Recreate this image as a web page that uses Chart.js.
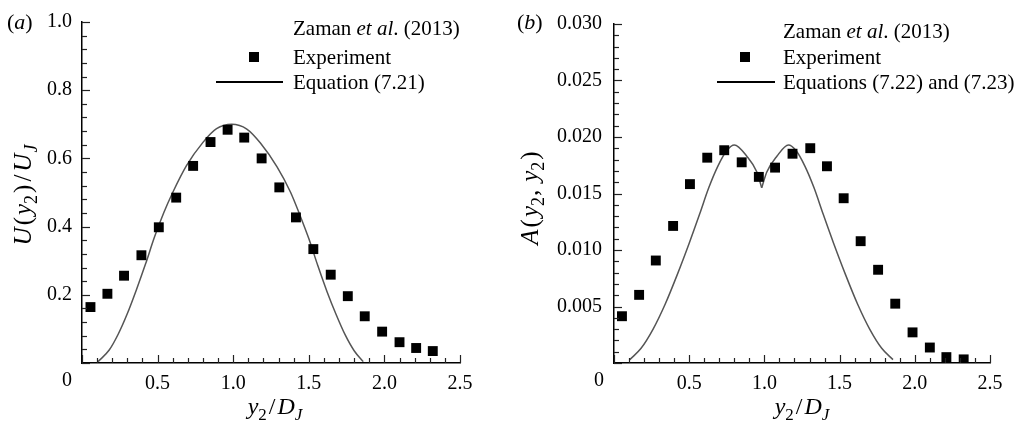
<!DOCTYPE html>
<html>
<head>
<meta charset="utf-8">
<script src="https://cdn.jsdelivr.net/npm/chart.js@4.4.0/dist/chart.umd.min.js"></script>
<style>
  body { margin: 0; background: #fff; }
  #wrap { position: relative; width: 1019px; height: 425px; }
  canvas { position: absolute; top: 0; }
  #ca { left: 0; }
  #cb { left: 510px; }
</style>
</head>
<body>
<div id="wrap">
  <canvas id="ca" width="500" height="425"></canvas>
  <canvas id="cb" width="509" height="425"></canvas>
</div>
<script>
// panel (a): mean velocity
const aExpX = [0.056, 0.168, 0.278, 0.393, 0.508, 0.623, 0.735, 0.85, 0.963, 1.073, 1.188, 1.305, 1.415, 1.53, 1.645, 1.758, 1.87, 1.985, 2.10, 2.21, 2.32];
const aExpY = [0.164, 0.203, 0.256, 0.316, 0.398, 0.485, 0.578, 0.648, 0.684, 0.661, 0.600, 0.515, 0.427, 0.334, 0.259, 0.196, 0.137, 0.092, 0.061, 0.044, 0.035];
const aEqX = [0.106, 0.18, 0.24, 0.30, 0.36, 0.42, 0.48, 0.54, 0.60, 0.69, 0.80, 0.89, 0.99, 1.09, 1.18, 1.29, 1.38, 1.44, 1.50, 1.56, 1.62, 1.68, 1.74, 1.80, 1.86];
const aEqY = [0.004, 0.038, 0.085, 0.145, 0.215, 0.29, 0.37, 0.44, 0.50, 0.578, 0.647, 0.687, 0.70, 0.686, 0.645, 0.575, 0.50, 0.435, 0.365, 0.285, 0.21, 0.143, 0.083, 0.036, 0.004];

// panel (b): A(y2, y2)
const bExpX = [0.053, 0.167, 0.278, 0.393, 0.505, 0.62, 0.733, 0.849, 0.963, 1.071, 1.187, 1.305, 1.416, 1.527, 1.64, 1.756, 1.87, 1.985, 2.10, 2.21, 2.325];
const bExpY = [0.00414, 0.00603, 0.00907, 0.01213, 0.01583, 0.01817, 0.01883, 0.01776, 0.01647, 0.01729, 0.01852, 0.01901, 0.01741, 0.01458, 0.01078, 0.00825, 0.00525, 0.00271, 0.00137, 0.00052, 0.00032];
// the equation curve has a cusp at the centre, so it is kept as two branches
const bEqLeftX = [0.105, 0.18, 0.26, 0.34, 0.42, 0.50, 0.57, 0.63, 0.69, 0.75, 0.80, 0.883, 0.95, 0.982];
const bEqLeftY = [0.0003, 0.0013, 0.0030, 0.0052, 0.0078, 0.0106, 0.0132, 0.0155, 0.0174, 0.0188, 0.0193, 0.0183, 0.0169, 0.0155];
const bEqRightX = [0.982, 1.016, 1.083, 1.16, 1.21, 1.27, 1.33, 1.39, 1.46, 1.54, 1.62, 1.70, 1.78, 1.855];
const bEqRightY = [0.0155, 0.0169, 0.0183, 0.0193, 0.0188, 0.0174, 0.0155, 0.0132, 0.0106, 0.0078, 0.0052, 0.0030, 0.0013, 0.0003];

const xTicks = [0, 0.5, 1.0, 1.5, 2.0, 2.5];
const aYTicks = [0, 0.2, 0.4, 0.6, 0.8, 1.0];
const bYTicks = [0, 0.005, 0.010, 0.015, 0.020, 0.025, 0.030];

const SERIF = '"Liberation Serif", "Times New Roman", serif';
const pts = (xs, ys) => xs.map((x, i) => ({ x: x, y: ys[i] }));

// draws a run of roman / italic / subscript pieces
function drawRich(ctx, parts, x, y, size, align) {
  const fontFor = k => (k.indexOf('i') >= 0 ? 'italic ' : '') + Math.round(k[0] === 's' ? size * 0.72 : size) + 'px ' + SERIF;
  let w = 0;
  parts.forEach(p => { ctx.font = fontFor(p[1]); w += ctx.measureText(p[0]).width + (p[2] || 0); });
  let cx = align === 'center' ? x - w / 2 : x;
  parts.forEach(p => {
    ctx.font = fontFor(p[1]);
    ctx.fillText(p[0], cx, p[1][0] === 's' ? y + size * 0.25 : y);
    cx += ctx.measureText(p[0]).width + (p[2] || 0);
  });
}

// ticks pointing into the plot, major and minor
const inwardTicks = {
  id: 'inwardTicks',
  afterDatasetsDraw(chart, args, o) {
    const { ctx, chartArea: a, scales: { x, y } } = chart;
    ctx.save();
    ctx.strokeStyle = '#222';
    ctx.lineWidth = 1.2;
    const nx = Math.round((x.max - x.min) / o.xMinor);
    for (let i = 0; i <= nx; i++) {
      const px = Math.round(x.getPixelForValue(x.min + i * o.xMinor)) + 0.5;
      const len = i % o.xEvery === 0 ? 8 : 5;
      ctx.beginPath(); ctx.moveTo(px, a.bottom); ctx.lineTo(px, a.bottom - len); ctx.stroke();
    }
    const ny = Math.round((y.max - y.min) / o.yMinor);
    for (let i = 0; i <= ny; i++) {
      const py = Math.round(y.getPixelForValue(y.min + i * o.yMinor)) + 0.5;
      const len = i % o.yEvery === 0 ? 8 : 5;
      ctx.beginPath(); ctx.moveTo(a.left, py); ctx.lineTo(a.left + len, py); ctx.stroke();
    }
    // the shared origin label sits left of the axis
    ctx.fillStyle = '#000';
    ctx.font = '20px ' + SERIF;
    ctx.textAlign = 'center';
    ctx.textBaseline = 'middle';
    ctx.fillText('0', x.getPixelForValue(0) - 15, a.bottom + 18);
    ctx.restore();
  }
};

// legend, panel label and axis titles
const annotations = {
  id: 'annotations',
  afterDraw(chart, args, o) {
    const ctx = chart.ctx;
    ctx.save();
    ctx.fillStyle = '#000';
    ctx.textBaseline = 'alphabetic';
    ctx.textAlign = 'left';
    // panel tag
    drawRich(ctx, [['(', 'r'], [o.tag, 'i'], [')', 'r']], 7, 29, 22, 'left');
    // legend
    drawRich(ctx, [['Zaman ', 'r'], ['et al', 'i'], ['. (2013)', 'r']], o.legX, o.legY0 + 7, 21, 'left');
    ctx.fillRect(o.markX - 5, o.legY1 - 5, 10, 10);
    drawRich(ctx, [['Experiment', 'r']], o.legX, o.legY1 + 7, 21, 'left');
    ctx.strokeStyle = '#000';
    ctx.lineWidth = 2;
    ctx.beginPath(); ctx.moveTo(o.lineX0, o.legY2); ctx.lineTo(o.lineX1, o.legY2); ctx.stroke();
    drawRich(ctx, [[o.eqText, 'r']], o.legX, o.legY2 + 7, 21, 'left');
    // x title
    drawRich(ctx, [['y', 'i'], ['2', 'sr', 2], ['/', 'r', 2], ['D', 'i'], ['J', 'si']], o.xtX, 414, 24, 'center');
    // y title, rotated
    ctx.translate(o.ytX, o.ytY);
    ctx.rotate(-Math.PI / 2);
    drawRich(ctx, o.yParts, 0, 0, 25, 'center');
    ctx.restore();
  }
};

function makeChart(id, datasets, cfg) {
  return new Chart(document.getElementById(id), {
    type: 'scatter',
    data: { datasets: datasets },
    options: {
      responsive: false,
      animation: false,
      layout: { padding: { top: cfg.padTop, right: cfg.padRight, left: 0, bottom: 0 } },
      plugins: {
        legend: { display: false },
        tooltip: { enabled: false },
        inwardTicks: cfg.ticks,
        annotations: cfg.ann
      },
      scales: {
        x: {
          type: 'linear', min: 0, max: 2.5,
          afterBuildTicks: s => { s.ticks = xTicks.map(v => ({ value: v })); },
          afterFit: s => { s.height = 62; },
          grid: { display: false, drawTicks: false },
          border: { display: true, color: '#000', width: 1.5 },
          ticks: {
            padding: 9, color: '#000', font: { family: SERIF, size: 20 },
            callback: v => v === 0 ? '' : v.toFixed(1)
          }
        },
        y: {
          type: 'linear', min: 0, max: cfg.yMax,
          afterBuildTicks: s => { s.ticks = cfg.yTicks.map(v => ({ value: v })); },
          afterFit: s => { s.width = cfg.yWidth; },
          grid: { display: false, drawTicks: false },
          border: { display: true, color: '#000', width: 1.5 },
          ticks: {
            padding: cfg.yPad, color: '#000', font: { family: SERIF, size: 20 },
            callback: v => v === 0 ? '' : v.toFixed(cfg.yDec)
          }
        }
      }
    },
    plugins: [inwardTicks, annotations]
  });
}

const square = { pointStyle: 'rect', pointRadius: 7, pointHoverRadius: 7, backgroundColor: '#000', borderColor: '#000', borderWidth: 0, showLine: false, order: 0 };
const curve = { showLine: true, pointRadius: 0, borderColor: '#555', borderWidth: 1.5, cubicInterpolationMode: 'monotone', fill: false, order: 1 };

makeChart('ca', [
  Object.assign({ label: 'Experiment', data: pts(aExpX, aExpY) }, square),
  Object.assign({ label: 'Equation (7.21)', data: pts(aEqX, aEqY) }, curve)
], {
  padTop: 19, padRight: 40, yWidth: 82, yPad: 10, yMax: 1.0, yTicks: aYTicks, yDec: 1,
  ticks: { xMinor: 0.1, xEvery: 5, yMinor: 0.04, yEvery: 5 },
  ann: {
    tag: 'a', legX: 293, legY0: 28, legY1: 57, legY2: 82, markX: 254, lineX0: 216, lineX1: 283,
    eqText: 'Equation (7.21)', xtX: 275, ytX: 31, ytY: 195,
    yParts: [['U', 'i', 2], ['(', 'r', 2], ['y', 'i'], ['2', 'sr', 2], [')', 'r', 3], ['/', 'r', 3], ['U', 'i', 1], ['J', 'si']]
  }
});

makeChart('cb', [
  Object.assign({ label: 'Experiment', data: pts(bExpX, bExpY) }, square),
  Object.assign({ label: 'Equations (7.22) and (7.23)', data: pts(bEqLeftX, bEqLeftY) }, curve),
  Object.assign({ label: 'Equations (7.22) and (7.23)', data: pts(bEqRightX, bEqRightY) }, curve)
], {
  padTop: 20, padRight: 29, yWidth: 104, yPad: 12, yMax: 0.030, yTicks: bYTicks, yDec: 3,
  ticks: { xMinor: 0.1, xEvery: 5, yMinor: 0.001, yEvery: 5 },
  ann: {
    tag: 'b', legX: 273, legY0: 31, legY1: 57, legY2: 82, markX: 235, lineX0: 207, lineX1: 265,
    eqText: 'Equations (7.22) and (7.23)', xtX: 292, ytX: 28, ytY: 198,
    yParts: [['A', 'i', 2], ['(', 'r', 2], ['y', 'i'], ['2', 'sr', 1], [',', 'r', 8], ['y', 'i'], ['2', 'sr', 2], [')', 'r']]
  }
});
</script>
</body>
</html>
